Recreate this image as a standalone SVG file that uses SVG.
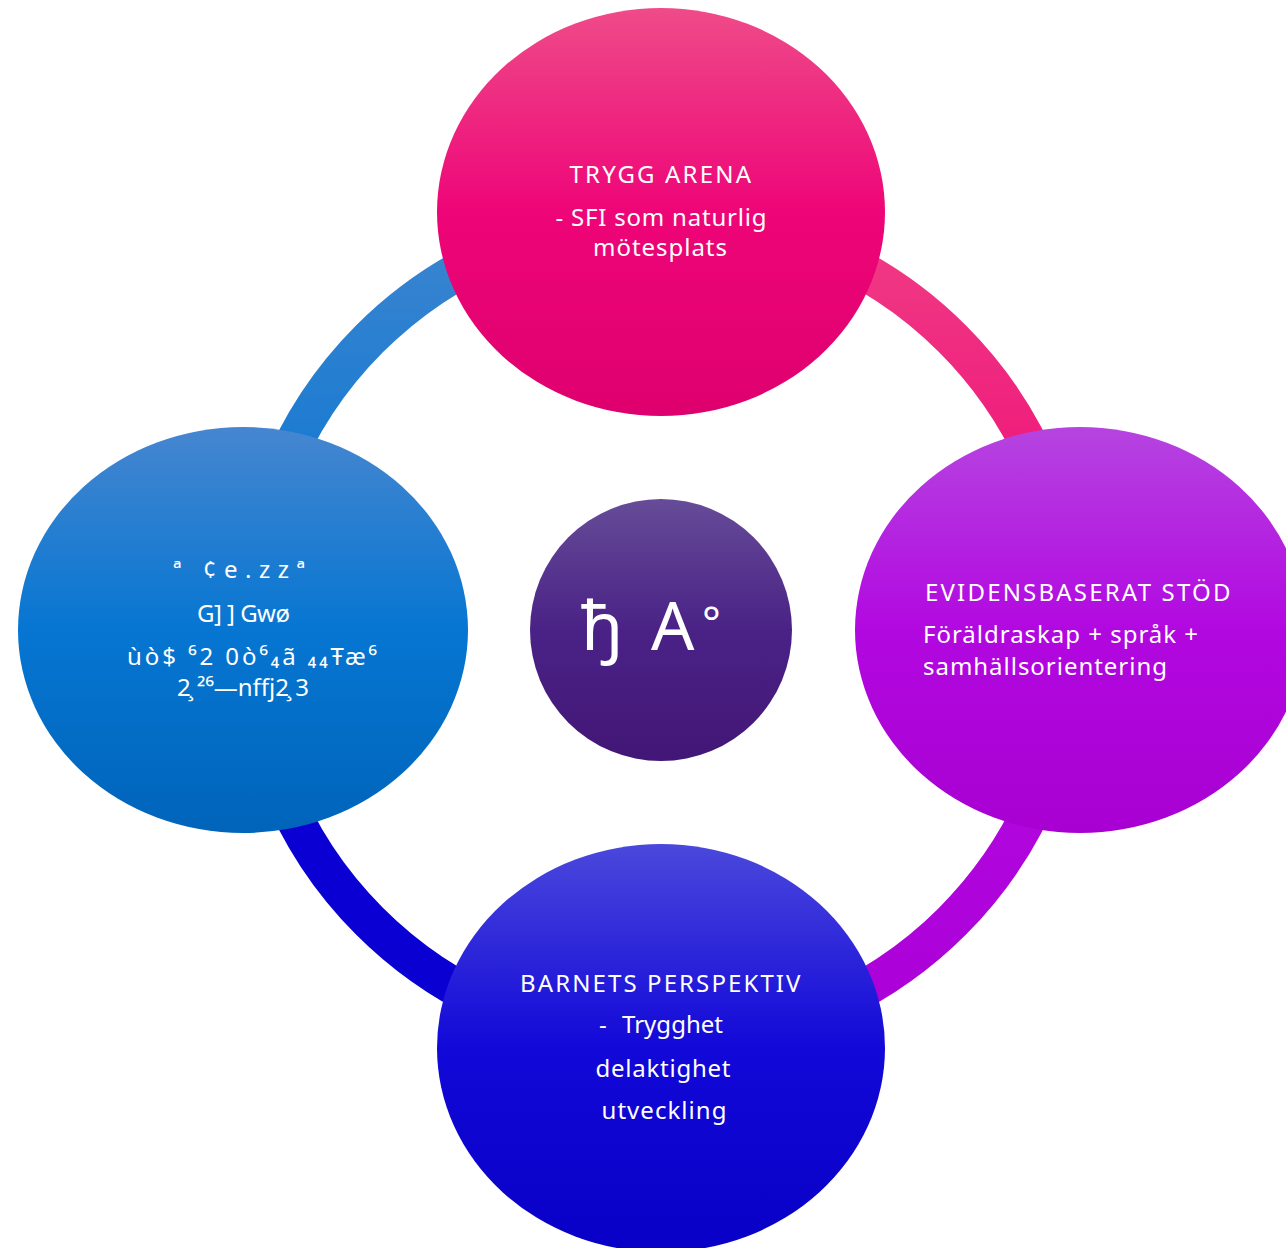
<svg xmlns="http://www.w3.org/2000/svg" width="1286" height="1248" viewBox="0 0 1286 1248">
<style>
.t{font-family:"Noto Sans","Open Sans","Liberation Sans",sans-serif;fill:#ffffff;font-size:24px;}
.h{letter-spacing:1.5px;}
.c{text-anchor:middle;}
.big{font-size:68px;}
.deg{font-size:44px;}
.ring{fill:none;stroke-width:38;}
</style>
<defs>
<linearGradient id="gTop" x1="0" y1="0" x2="0" y2="1">
<stop offset="0" stop-color="#ef4b89"/><stop offset="0.5" stop-color="#ee0578"/><stop offset="1" stop-color="#de006e"/>
</linearGradient>
<linearGradient id="gRight" x1="0" y1="0" x2="0" y2="1">
<stop offset="0" stop-color="#b644e0"/><stop offset="0.5" stop-color="#b208e0"/><stop offset="1" stop-color="#a800d2"/>
</linearGradient>
<linearGradient id="gBottom" x1="0" y1="0" x2="0" y2="1">
<stop offset="0" stop-color="#4a48dc"/><stop offset="0.5" stop-color="#1208d8"/><stop offset="1" stop-color="#0800c6"/>
</linearGradient>
<linearGradient id="gLeft" x1="0" y1="0" x2="0" y2="1">
<stop offset="0" stop-color="#4686d0"/><stop offset="0.5" stop-color="#0676d2"/><stop offset="1" stop-color="#0064ba"/>
</linearGradient>
<linearGradient id="gCenter" x1="0" y1="0" x2="0" y2="1">
<stop offset="0" stop-color="#664c98"/><stop offset="0.5" stop-color="#4a2286"/><stop offset="1" stop-color="#421676"/>
</linearGradient>
<linearGradient id="rTL" gradientUnits="userSpaceOnUse" x1="0" y1="240" x2="0" y2="630">
<stop offset="0" stop-color="#3a84d0"/><stop offset="1" stop-color="#0074d2"/>
</linearGradient>
<linearGradient id="rTR" gradientUnits="userSpaceOnUse" x1="0" y1="240" x2="0" y2="630">
<stop offset="0" stop-color="#f03a84"/><stop offset="1" stop-color="#ee0576"/>
</linearGradient>
<linearGradient id="rBR" gradientUnits="userSpaceOnUse" x1="0" y1="630" x2="0" y2="1020">
<stop offset="0" stop-color="#b40ae2"/><stop offset="1" stop-color="#ac00d8"/>
</linearGradient>
<linearGradient id="rBL" gradientUnits="userSpaceOnUse" x1="0" y1="630" x2="0" y2="1020">
<stop offset="0" stop-color="#0a00d6"/><stop offset="1" stop-color="#0a00d2"/>
</linearGradient>
</defs>
<rect width="1286" height="1248" fill="#ffffff"/>
<g id="connectors">
<path class="ring" stroke="url(#rTL)" d="M 249 630 A 412 412 0 0 1 661 218"/>
<path class="ring" stroke="url(#rTR)" d="M 661 218 A 412 412 0 0 1 1073 630"/>
<path class="ring" stroke="url(#rBR)" d="M 1073 630 A 412 412 0 0 1 661 1042"/>
<path class="ring" stroke="url(#rBL)" d="M 661 1042 A 412 412 0 0 1 249 630"/>
</g>
<g id="node-top">
<ellipse cx="661" cy="212" rx="224" ry="204" fill="url(#gTop)"/>
<text class="t h c" x="661" y="183" textLength="183">TRYGG ARENA</text>
<text class="t c" x="661" y="226" textLength="211">- SFI som naturlig</text>
<text class="t c" x="660" y="256" textLength="134">mötesplats</text>
</g>
<g id="node-right">
<ellipse cx="1080" cy="630" rx="225" ry="203" fill="url(#gRight)"/>
<text class="t h" x="925" y="601" textLength="307">EVIDENSBASERAT STÖD</text>
<text class="t" x="923" y="643" textLength="275">Föräldraskap + språk +</text>
<text class="t" x="923" y="675" textLength="244">samhällsorientering</text>
</g>
<g id="node-bottom">
<ellipse cx="661" cy="1048" rx="224" ry="204" fill="url(#gBottom)"/>
<text class="t h c" x="661" y="992" textLength="282">BARNETS PERSPEKTIV</text>
<text class="t" x="599" y="1033">-</text>
<text class="t" x="622" y="1033" textLength="101">Trygghet</text>
<text class="t c" x="663" y="1077" textLength="135">delaktighet</text>
<text class="t c" x="664" y="1119" textLength="125">utveckling</text>
</g>
<g id="node-left">
<ellipse cx="243" cy="630" rx="225" ry="203" fill="url(#gLeft)"/>
<text class="t" x="173" y="578" textLength="132">ª  ¢e.zzª</text>
<text class="t" x="197" y="622" textLength="93">G] ] Gwø</text>
<text class="t" x="127" y="665" textLength="250">ùò$ ⁶2 0ò⁶₄ã   ₄₄Ŧæ⁶</text>
<text class="t" x="177" y="696" textLength="132">2̧ ²⁶—nffj2̧ 3</text>
</g>
<g id="node-center">
<circle cx="661" cy="630" r="131" fill="url(#gCenter)"/>
<text class="t big" x="581" y="650">ђ</text>
<text class="t big" x="651" y="650">A</text>
<text class="t deg" x="702" y="638">°</text>
</g>
</svg>
